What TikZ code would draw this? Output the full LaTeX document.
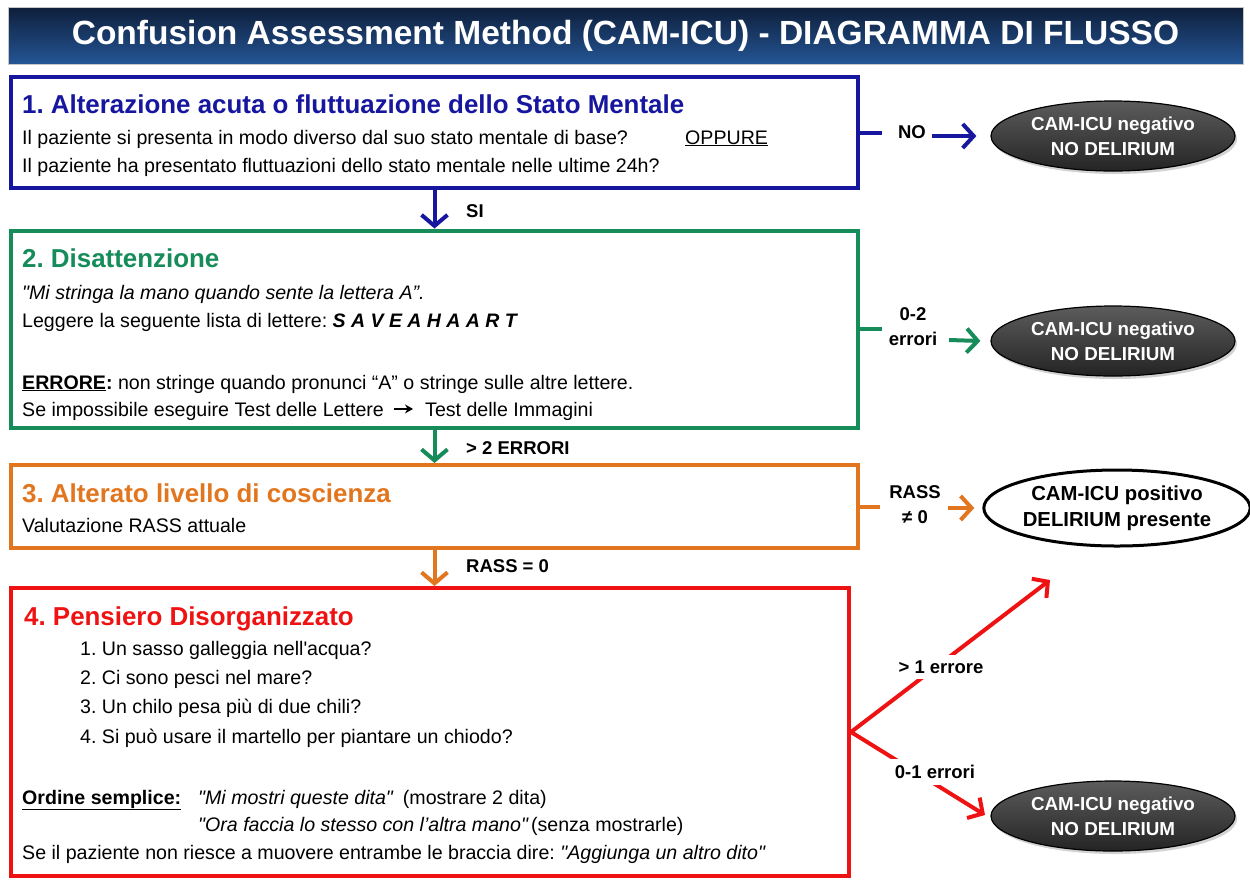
\documentclass[tikz,border=0pt]{standalone}
\usepackage{fontspec}
\newfontfamily\lib{Liberation Sans}
\usetikzlibrary{arrows.meta,shadows,shapes.geometric}
\definecolor{cblue}{RGB}{22,22,158}
\definecolor{cgreen}{RGB}{22,140,90}
\definecolor{corange}{RGB}{226,118,30}
\definecolor{cred}{RGB}{238,18,18}
\definecolor{ctitA}{RGB}{14,30,58}
\definecolor{ctitB}{RGB}{36,86,150}
\definecolor{cellA}{RGB}{92,92,92}
\definecolor{cellB}{RGB}{36,36,36}
\newcommand\fbody{\fontsize{19.6}{23}\selectfont}
\newcommand\fhead{\fontsize{25.9}{30}\selectfont\bfseries}
\newcommand\flab{\fontsize{18.5}{25}\selectfont\bfseries}
\begin{document}
\lib\frenchspacing
\begin{tikzpicture}[x=1pt,y=-1pt,
  box/.style={draw, line width=4pt, rectangle, inner sep=0pt},
  txt/.style={anchor=base west, inner sep=0pt, font=\fbody},
  head/.style={anchor=base west, inner sep=0pt, font=\fhead},
  lab/.style={inner sep=0pt, font=\flab, align=center},
  darr/.style={line width=4pt, -{Straight Barb[length=11pt,width=26pt,line width=4pt]}},
  rarr/.style={line width=4pt, -{Straight Barb[length=11pt,width=24pt,line width=4pt]}},
  stub/.style={line width=4pt},
  ell/.style={ellipse, draw=black, line width=1.2pt, top color=cellA, bottom color=cellB,
    minimum width=244pt, minimum height=70pt, inner sep=0pt, text=white,
    font=\fontsize{18.8}{25}\selectfont\bfseries, align=center,
    drop shadow={shadow xshift=2pt, shadow yshift=-3pt, opacity=0.35}},
  ellw/.style={ellipse, draw=black, line width=3pt, fill=white,
    minimum width=258pt, minimum height=76pt, inner sep=0pt, text=black,
    font=\fontsize{20.3}{26}\selectfont\bfseries, align=center}
]
\fill[white] (0,0) rectangle (1250,879);
\useasboundingbox (0,0) rectangle (1250,879);

% title
\node[draw=gray!45, line width=0.8pt, top color=ctitA, bottom color=ctitB,
  minimum width=1235pt, minimum height=57pt, inner sep=0pt, text=white,
  font=\fontsize{33.5}{36}\selectfont\bfseries] (title) at (625.5,35.5)
  {Confusion Assessment Method (CAM-ICU) - DIAGRAMMA DI FLUSSO};

% boxes
\node[box, draw=cblue, minimum width=847pt, minimum height=111pt] (b1) at (434.5,132.5) {};
\node[box, draw=cgreen, minimum width=847pt, minimum height=197pt] (b2) at (434.5,329) {};
\node[box, draw=corange, minimum width=847pt, minimum height=83pt] (b3) at (434.5,506.5) {};
\node[box, draw=cred, minimum width=838pt, minimum height=288pt] (b4) at (430,732) {};

% ellipses
\node[ell] (e1) at (1113,136) {CAM-ICU negativo\\NO DELIRIUM};
\node[ell] (e2) at (1113,341) {CAM-ICU negativo\\NO DELIRIUM};
\node[ellw] (e3) at (1117,508) {CAM-ICU positivo\\DELIRIUM presente};
\node[ell] (e4) at (1113,816) {CAM-ICU negativo\\NO DELIRIUM};

% box 1 text
\node[head, text=cblue] (h1) at (22,113) {1. Alterazione acuta o fluttuazione dello Stato Mentale};
\node[txt] (t11) at (22,144) {Il paziente si presenta in modo diverso dal suo stato mentale di base?};
\node[txt] (t12) at (685,144) {\underline{OPPURE}};
\node[txt] (t13) at (22,172) {Il paziente ha presentato fluttuazioni dello stato mentale nelle ultime 24h?};

% box 2 text
\node[head, text=cgreen] (h2) at (22,267) {2. Disattenzione};
\node[txt] (t21) at (22,299) {\itshape "Mi stringa la mano quando sente la lettera A”.};
\node[txt] (t22) at (22,327) {Leggere la seguente lista di lettere: {\fontsize{19.5}{23}\selectfont\bfseries\itshape S A V E A H A A R T}};
\node[txt] (t23) at (22,389) {\underline{\textbf{ERRORE}}\textbf{:} non stringe quando pronunci “A” o stringe sulle altre lettere.};
\node[txt] (t24) at (22,416) {Se impossibile eseguire Test delle Lettere};
\node[txt] (t25) at (425,416) {Test delle Immagini};
\draw[line width=1.8pt, -{Stealth[length=8pt,width=9pt]}] ([xshift=10pt,yshift=2pt]t24.east) -- ([xshift=-12pt,yshift=2pt]t25.west);

% box 3 text
\node[head, text=corange] (h3) at (22,502) {3. Alterato livello di coscienza};
\node[txt] (t31) at (22,532) {Valutazione RASS attuale};

% box 4 text
\node[head, text=cred] (h4) at (24,625) {4. Pensiero Disorganizzato};
\node[txt] (t41) at (80,655) {1. Un sasso galleggia nell'acqua?};
\node[txt] (t42) at (80,684) {2. Ci sono pesci nel mare?};
\node[txt] (t43) at (80,713) {3. Un chilo pesa più di due chili?};
\node[txt] (t44) at (80,743) {4. Si può usare il martello per piantare un chiodo?};
\node[txt] (t45) at (22,804) {\underline{\textbf{Ordine semplice:}}};
\node[txt] (t46) at (198,804) {{\itshape "Mi mostri queste dita"}\hspace{10pt}(mostrare 2 dita)};
\node[txt] (t47) at (198,831) {{\itshape "Ora faccia lo stesso con l’altra mano"}\hspace{3pt}(senza mostrarle)};
\node[txt] (t48) at (22,859) {Se il paziente non riesce a muovere entrambe le braccia dire: {\itshape "Aggiunga un altro dito"}};

% vertical flow
\draw[darr, cblue] (b1.south) -- (b2.north);
\node[lab, anchor=west] (si) at (466,211) {SI};
\draw[darr, cgreen] (b2.south) -- (b3.north);
\node[lab, anchor=west] (err2) at (466,448) {> 2 ERRORI};
\draw[darr, corange] (b3.south) -- (b3.south |- b4.north);
\node[lab, anchor=west] (rass0) at (466,566) {RASS = 0};

% side branches
\node[lab] (no) at (912,132) {NO};
\draw[stub, cblue] (b1.east) -- ++(22,0);
\coordinate (a1) at (932,136);
\draw[rarr, cblue] (a1) -- ([xshift=-14pt]e1.west);

\node[lab] (l2) at (913,327) {0-2\\errori};
\draw[stub, cgreen] (b2.east) -- ++(22,0);
\coordinate (a2) at (949,340);
\draw[rarr, cgreen] (a2) -- ([xshift=-10pt]e2.west);

\node[lab] (l3) at (915,505) {RASS\\≠ 0};
\draw[stub, corange] (b3.east) -- ++(20,0);
\coordinate (a3) at (948,508);
\draw[rarr, corange] (a3) -- ([xshift=-8pt]e3.west);

\coordinate (up) at (1050,580);
\coordinate (dn) at (985,815);
\draw[cred, line width=4pt, line join=miter,
  {Straight Barb[length=11pt,width=24pt,line width=4pt]}-{Straight Barb[length=11pt,width=24pt,line width=4pt]}]
  (up) -- (b4.east) -- (dn);
\node[lab, fill=white, inner sep=6pt] (l4a) at (941,667) {> 1 errore};
\node[lab, fill=white, inner sep=6pt] (l4b) at (935,772) {0-1 errori};
\end{tikzpicture}
\end{document}
